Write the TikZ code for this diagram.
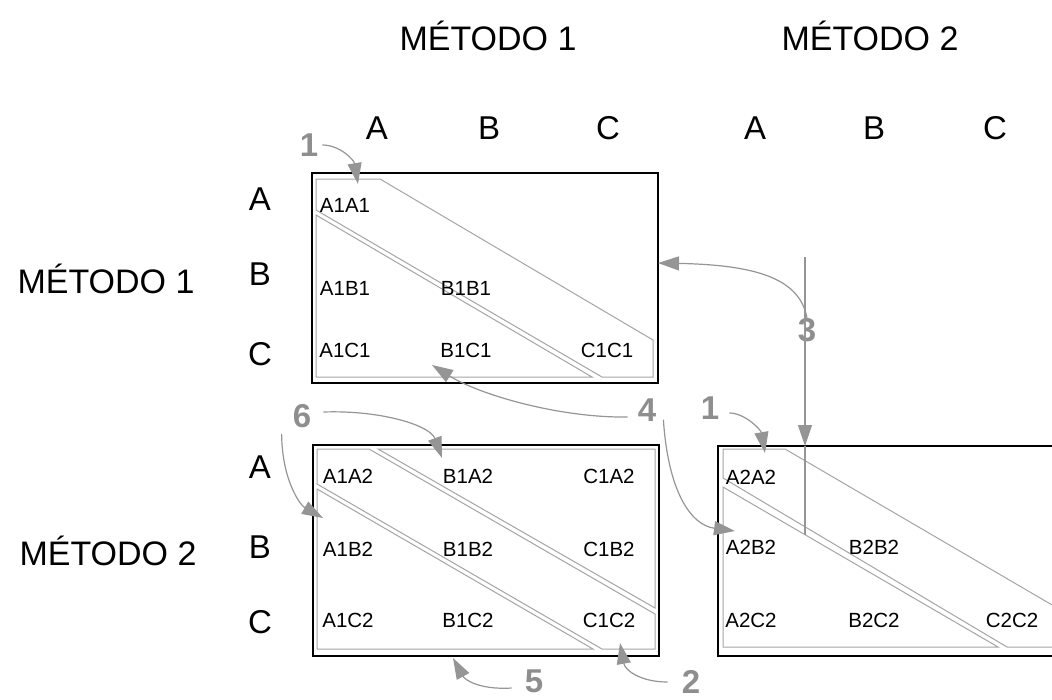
\documentclass[tikz,border=0pt]{standalone}
\usepackage{fontspec}
\setmainfont{Liberation Sans}
\usetikzlibrary{arrows.meta}
\definecolor{linkgray}{HTML}{959595}
\definecolor{cellgray}{HTML}{A4A4A4}
\definecolor{numgray}{HTML}{8E8E8E}
\tikzset{
  head/.style={font=\fontsize{34}{34}\selectfont, inner sep=0pt},
  letter/.style={font=\fontsize{33}{33}\selectfont, inner sep=0pt},
  cell/.style={font=\fontsize{20.5}{20.5}\selectfont, inner sep=0pt},
  num/.style={font=\bfseries\fontsize{33}{33}\selectfont, text=numgray, inner sep=0pt},
  frame/.style={draw=black, line width=1.8pt},
  zone/.style={draw=cellgray, line width=1pt, line join=miter},
  conn/.style={draw=linkgray, line width=1.2pt,
    -{Triangle[length=21pt,width=14pt]}},
  plain/.style={draw=linkgray, line width=1.2pt}
}
\begin{document}
\begin{tikzpicture}[x=1pt,y=-1pt]
\useasboundingbox (0,0) rectangle (1052,699);
\clip (0,0) rectangle (1052,699);

% headings
\node[head] (top1) at (488,36) {MÉTODO 1};
\node[head] (top2) at (870,36) {MÉTODO 2};
\node[head] (left1) at (106,279) {MÉTODO 1};
\node[head] (left2) at (108,551) {MÉTODO 2};

% column letters
\node[letter] (cA1) at (377,128) {A};
\node[letter] (cB1) at (489,128) {B};
\node[letter] (cC1) at (608,128) {C};
\node[letter] (cA2) at (755,128) {A};
\node[letter] (cB2) at (874,128) {B};
\node[letter] (cC2) at (995,128) {C};

% row letters
\node[letter] (rA1) at (260,199) {A};
\node[letter] (rB1) at (260,274) {B};
\node[letter] (rC1) at (260,354) {C};
\node[letter] (rA2) at (260,467) {A};
\node[letter] (rB2) at (260,547) {B};
\node[letter] (rC2) at (260,622) {C};

% block 1-1
\draw[zone] (316,210) -- (316,179) -- (380,179) -- (653,340) -- (653,377) -- (602,377) -- cycle;
\draw[zone] (316,215) -- (316,377) -- (592,377) -- cycle;
\draw[frame] (312,173) rectangle (658,383);
\node[cell] (a1a1) at (345,205) {A1A1};
\node[cell] (a1b1) at (345,288) {A1B1};
\node[cell] (b1b1) at (466,288) {B1B1};
\node[cell] (a1c1) at (345,350) {A1C1};
\node[cell] (b1c1) at (466,350) {B1C1};
\node[cell] (c1c1) at (607,350) {C1C1};

% block 1-2
\draw[zone] (378,449) -- (655,449) -- (655,608) -- cycle;
\draw[zone] (317,449) -- (369,449) -- (655,614) -- (655,649) -- (602,649) -- (317,484) -- cycle;
\draw[zone] (317,489) -- (317,649) -- (593,649) -- cycle;
\draw[frame] (313,445) rectangle (659,656);
\node[cell] (a1a2) at (348,476) {A1A2};
\node[cell] (b1a2) at (468,476) {B1A2};
\node[cell] (c1a2) at (609,476) {C1A2};
\node[cell] (a1b2) at (348,549) {A1B2};
\node[cell] (b1b2) at (468,549) {B1B2};
\node[cell] (c1b2) at (609,549) {C1B2};
\node[cell] (a1c2) at (348,620) {A1C2};
\node[cell] (b1c2) at (468,620) {B1C2};
\node[cell] (c1c2) at (609,620) {C1C2};

% block 2-2
\draw[zone] (723,478) -- (723,449) -- (785,449) -- (1059,609) -- (1059,647) -- (1007,647) -- cycle;
\draw[zone] (723,487) -- (723,647) -- (998,647) -- cycle;
\draw[frame] (718,446) rectangle (1064,656);
\node[cell] (a2a2) at (751,477) {A2A2};
\node[cell] (a2b2) at (751,547) {A2B2};
\node[cell] (b2b2) at (874,547) {B2B2};
\node[cell] (a2c2) at (751,620) {A2C2};
\node[cell] (b2c2) at (874,620) {B2C2};
\node[cell] (c2c2) at (1012,620) {C2C2};

% arrow end points
\coordinate (t1a) at (358,184);
\coordinate (t1b) at (765,453);
\coordinate (t3a) at (658,263);
\coordinate (t3top) at (805,257);
\coordinate (t3b) at (805,446);
\coordinate (t3end) at (805,535);
\coordinate (t4a) at (432,365);
\coordinate (t4b) at (735,531);
\coordinate (t6a) at (442,458);
\coordinate (t6b) at (323,518);
\coordinate (t5) at (453,658);
\coordinate (t2) at (620,643);

% step markers
\node[num] (n1a) at (309,145) {1};
\node[num] (n1b) at (710,408) {1};
\node[num] (n3) at (807,330) {3};
\node[num] (n4) at (647,410) {4};
\node[num] (n6) at (302,416) {6};
\node[num] (n5) at (534,681) {5};
\node[num] (n2) at (691,682) {2};

% connectors
\draw[conn] ([xshift=4pt]n1a.east) .. controls (340,145) and (354,160) .. (t1a);
\draw[conn] ([xshift=10pt,yshift=-5pt]n1b.east) .. controls (745,413) and (761,430) .. (t1b);
\draw[conn] (n3.north) .. controls (800,280) and (760,265) .. (t3a);
\draw[conn] (t3top) -- (t3b);
\draw[plain] (t3b) -- (t3end);
\draw[conn] ([xshift=-10pt,yshift=-7pt]n4.west) .. controls (560,418) and (480,395) .. (t4a);
\draw[conn] ([xshift=7pt,yshift=2pt]n4.south east) .. controls (668,490) and (690,525) .. (t4b);
\draw[conn] ([xshift=12pt,yshift=4pt]n6.east) .. controls (380,410) and (430,425) .. (t6a);
\draw[conn] ([xshift=-11pt,yshift=-6pt]n6.south west) .. controls (282,480) and (300,505) .. (t6b);
\draw[conn] ([xshift=-13pt,yshift=-7pt]n5.west) .. controls (480,690) and (465,680) .. (t5);
\draw[conn] ([xshift=-14pt,yshift=0pt]n2.west) .. controls (640,682) and (625,670) .. (t2);
\end{tikzpicture}
\end{document}
